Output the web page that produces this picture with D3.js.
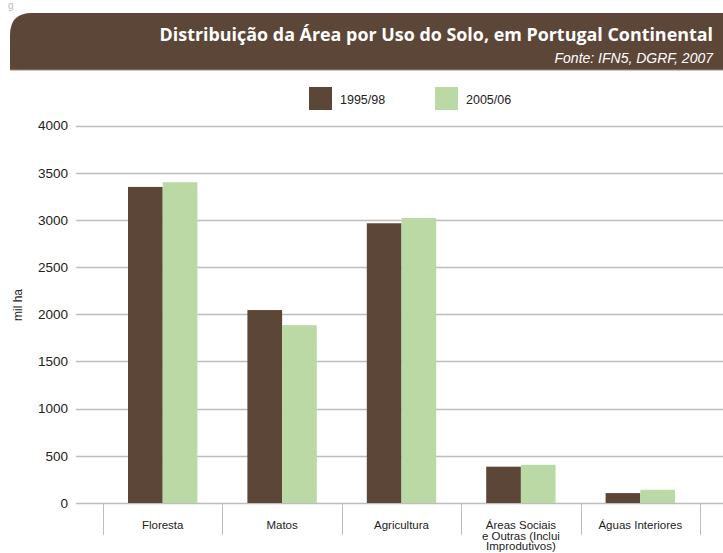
<!DOCTYPE html>
<html>
<head>
<meta charset="utf-8">
<script src="https://cdn.jsdelivr.net/npm/d3@7"></script>
<style>
  body { margin: 0; background: #fff; }
  svg text { font-family: "Liberation Sans", Arial, sans-serif; }
</style>
</head>
<body>
<div id="chart"></div>
<script>
// data
var categories = ["Floresta", "Matos", "Agricultura", "Áreas Sociais\ne Outras (Inclui\nImprodutivos)", "Águas Interiores"];
var series = ["1995/98", "2005/06"];
var v1995 = [3350, 2045, 2965, 385, 105];
var v2005 = [3400, 1885, 3020, 405, 140];
var yTicks = [0, 500, 1000, 1500, 2000, 2500, 3000, 3500, 4000];
var colors = ["#5c4638", "#bad9a5"];

var w = 723, h = 553;
var svg = d3.select("#chart").append("svg").attr("width", w).attr("height", h);

// caption letter at the very top (mostly cut in the source)
svg.append("text").attr("x", 8).attr("y", 9).attr("font-size", 10).attr("fill", "#bbb").text("g");

// banner with rounded top-left corner
var bx = 10, by = 13, bh = 57, r = 22;
svg.append("path")
  .attr("d", "M" + bx + "," + (by + bh) + " V" + (by + r) + " Q" + bx + "," + by + " " + (bx + r) + "," + by + " H" + w + " V" + (by + bh) + " Z")
  .attr("fill", "#5c4638");
svg.append("line").attr("x1", bx).attr("x2", w).attr("y1", by + bh).attr("y2", by + bh)
  .attr("stroke", "#9a8c80").attr("stroke-width", 1);

svg.append("text").attr("x", 713).attr("y", 41).attr("text-anchor", "end")
  .attr("font-size", 17.9).attr("font-weight", "bold").attr("fill", "#fff")
  .style("font-family", "'Open Sans', sans-serif")
  .text("Distribuição da Área por Uso do Solo, em Portugal Continental");
svg.append("text").attr("x", 713).attr("y", 63).attr("text-anchor", "end")
  .attr("font-size", 14).attr("font-style", "italic").attr("fill", "#fff")
  .text("Fonte: IFN5, DGRF, 2007");

// scales
var y = d3.scaleLinear().domain([0, 4000]).range([503, 125.6]);
var x0 = d3.scaleBand().domain(categories).range([103, 700]).padding(0);
var x1 = d3.scaleBand().domain(series).range([25, x0.bandwidth() - 25]).padding(0);

// grid lines
svg.append("g").selectAll("line").data(yTicks).enter().append("line")
  .attr("x1", 76).attr("x2", w)
  .attr("y1", function(d) { return Math.round(y(d)) + 0.5; })
  .attr("y2", function(d) { return Math.round(y(d)) + 0.5; })
  .attr("stroke", "#bdbdbd").attr("stroke-width", 1.5);

// y axis labels
var yAxis = d3.axisLeft(y).tickValues(yTicks).tickFormat(d3.format("d")).tickSize(0).tickPadding(0);
var gy = svg.append("g").attr("transform", "translate(68,0)").call(yAxis);
gy.select(".domain").remove();
gy.selectAll("text").attr("font-size", 13.5).attr("fill", "#222")
  .style("font-family", "'Liberation Sans', Arial, sans-serif");

svg.append("text").attr("transform", "translate(22,305) rotate(-90)")
  .attr("text-anchor", "middle").attr("font-size", 12).attr("fill", "#222").text("mil ha");

// category separators
var bounds = categories.map(function(c) { return x0(c); }).concat([x0.range()[1]]);
svg.append("g").selectAll("line").data(bounds).enter().append("line")
  .attr("x1", function(d) { return Math.round(d) + 0.5; })
  .attr("x2", function(d) { return Math.round(d) + 0.5; })
  .attr("y1", 503).attr("y2", 535)
  .attr("stroke", "#bdbdbd").attr("stroke-width", 1);

// bars
var rows = categories.map(function(c, i) { return { cat: c, vals: [v1995[i], v2005[i]] }; });
var groups = svg.append("g").selectAll("g").data(rows).enter().append("g")
  .attr("transform", function(d) { return "translate(" + x0(d.cat) + ",0)"; });
groups.selectAll("rect").data(function(d) { return d.vals.map(function(v, j) { return { s: series[j], v: v, j: j }; }); })
  .enter().append("rect")
  .attr("x", function(d) { return x1(d.s); })
  .attr("width", x1.bandwidth())
  .attr("y", function(d) { return y(d.v); })
  .attr("height", function(d) { return 503 - y(d.v); })
  .attr("fill", function(d) { return colors[d.j]; });

// category labels
var labels = svg.append("g").selectAll("text").data(categories).enter().append("text")
  .attr("x", function(d) { return x0(d) + x0.bandwidth() / 2; })
  .attr("y", 529).attr("text-anchor", "middle").attr("font-size", 11.5).attr("fill", "#222");
labels.each(function(d) {
  var t = d3.select(this);
  d.split("\n").forEach(function(line, k) {
    t.append("tspan").attr("x", x0(d) + x0.bandwidth() / 2).attr("dy", k === 0 ? 0 : 10.5).text(line);
  });
});

// legend
var legend = svg.append("g").selectAll("g").data(series).enter().append("g")
  .attr("transform", function(d, i) { return "translate(" + (309 + i * 126) + ",87)"; });
legend.append("rect").attr("width", 23).attr("height", 23).attr("fill", function(d, i) { return colors[i]; });
legend.append("text").attr("x", 31).attr("y", 17).attr("font-size", 12.5).attr("fill", "#222")
  .text(function(d) { return d; });
</script>
</body>
</html>
